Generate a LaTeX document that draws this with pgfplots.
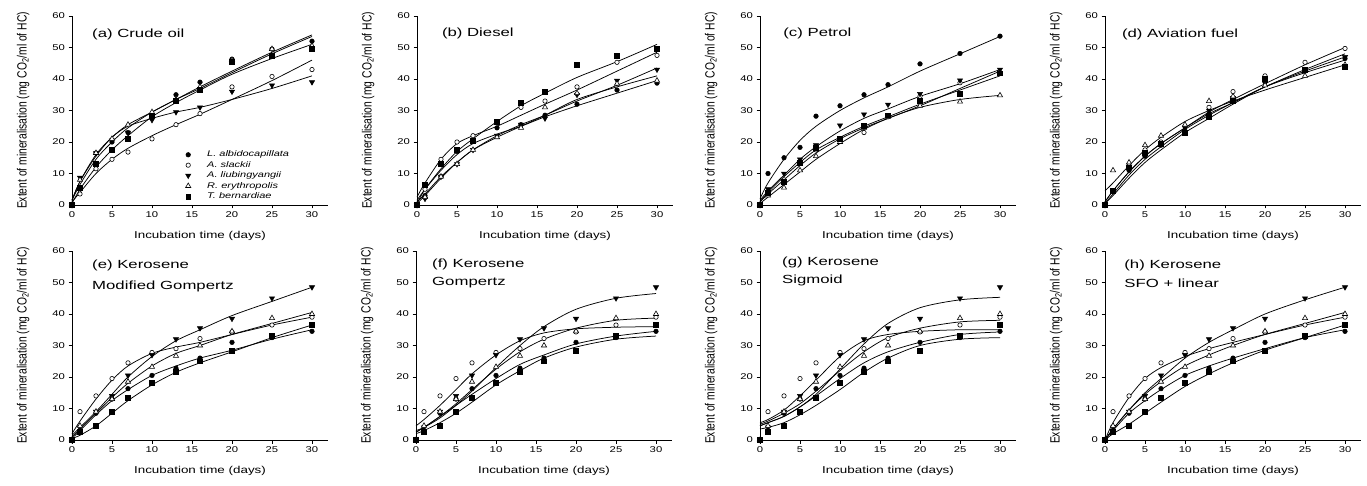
\documentclass[border=0pt]{standalone}
\usepackage{fontspec}
\setmainfont[FakeStretch=1.34]{Liberation Sans}
\newfontfamily\ylfont{Liberation Sans}
\newfontfamily\ttlfont[FakeStretch=1.42]{Liberation Sans}
\usepackage{pgfplots}
\usepackage{pgfplotstable}
\pgfplotsset{compat=1.18}

% ---------- marker data ----------
\pgfplotstableread{
t La As Al Re Tb
0 0 0 0 0 0
1 5.5 3.5 8.7 8 5.5
3 16.5 11.5 16.5 16.5 13
5 20 14.5 20.5 21 17.5
7 23 16.8 23 25.5 21
10 28 21 27 29.5 28.5
13 35 25.5 29.5 33.5 33
16 39 29 31 37.5 36.5
20 46.3 37.5 36 46 45.5
25 49.5 40.8 38 49.5 47.5
30 52 43 39 50.5 49.5
}\cM
\pgfplotstableread{
t La As Al Re Tb
0 1.5 1 1.5 1.5 0.5
1 6.5 4 7.5 7.5 5
3 14.5 10 15.5 16 12
5 20 14.5 21.5 21.5 17.5
7 24.5 18 25 25.5 22
10 29.5 22 27.5 29.5 28
13 33.5 25.5 29.5 33.5 32.5
16 37.5 28.8 31 37 36.5
20 42.5 33.5 33.5 42 41.5
25 48.5 39.5 37 48 46.5
30 54 46 41 53.5 51
}\cC
\pgfplotstableread{
t La As Al Re Tb
0 0 0 0 0 0
1 3 5 2 2.5 6.5
3 9 14.5 9 9 13
5 17 20 13 13 17.5
7 20.5 22 17.5 17.5 20.5
10 24.5 26.5 22 21.5 26.5
13 25.5 31 25.5 24.5 32.5
16 28.5 33 27.5 31 36
20 32 37.5 35 35.5 44.5
25 36.5 45.3 39.5 38.5 47.5
30 38.7 47.5 43 39.5 49.5
}\dM
\pgfplotstableread{
t La As Al Re Tb
0 1.5 2.5 0.5 1 0.5
1 5 7 3 3.5 5
3 11 14.5 8.5 9 11.5
5 16 19.5 13.5 13.5 17
7 19.5 22 17.5 17.5 21
10 22.5 25 22 21.5 26.5
13 25 28.5 25.5 25 31.5
16 28 32 28.5 28.5 35.5
20 31.5 36.5 33 33.5 40.5
25 35.5 42.5 38 37.5 45.5
30 39.5 48.5 43.5 41 51
}\dC
\pgfplotstableread{
t La As Al Re Tb
0 0 0 0 0 0
1 10 4 5 3 4
3 15 8 10 5.5 7.5
5 18.3 13.5 14.5 11 13.5
7 28.2 17.5 19 15.5 18.3
10 31.5 21 25.3 20 21
13 35 23 28.8 24.5 25.2
16 38.2 28 31.9 28 28.5
20 44.8 34.5 35.3 31.5 33
25 48.1 38.8 39.6 32.8 35.3
30 53.6 42 43 34.8 41.8
}\pM
\pgfplotstableread{
t La As Al Re Tb
0 2 1 1.5 0.5 1
1 7 3.5 4.5 2.5 4
3 14.5 8 9.5 6.5 9
5 20.5 12.5 14.5 10.5 13.5
7 25 16.5 18.5 14.5 17.5
10 30 21 23.5 19.5 21.5
13 34 24.5 27.5 24 25
16 37.5 27.5 30.5 27.5 28
20 42.5 31.5 34.5 31 32
25 48 37 38.5 33.5 36.5
30 53.5 42.5 43 34.8 41
}\pC
\pgfplotstableread{
t La As Al Re Tb
0 0 0 0 0 0
1 4.5 4.5 4.5 11 4.5
3 11 12.5 12 13.5 12
5 15.5 17.5 16.5 19 16.5
7 19 20 19.5 22 19.5
10 23.5 25 24.5 25.5 23
13 29 31 30 33 28
16 33 36 34 34.5 33
20 39 41 39.5 38 40
25 42.5 45.3 43 41 43
30 46.5 49.7 47 44.5 44
}\aM
\pgfplotstableread{
t La As Al Re Tb
0 0.5 1 0.5 4.5 1
1 3 4.5 3.5 7 4.5
3 8.5 10.5 9.5 12.5 10.5
5 13.5 15.5 14.5 17.5 15.5
7 17.5 19.5 18.5 21.5 19.5
10 23 24.5 24 26.5 24.5
13 27.5 29.5 28.5 30 29
16 32 33.5 32.5 33 32.5
20 37.5 38.5 37.5 36.5 37.5
25 42.5 44.5 43 40.5 42
30 47 50 48 44.5 46
}\aC
\pgfplotstableread{
t La As Al Re Tb
0 0 0 0 0 0
1 3 9 4 4.5 2.5
3 8.5 14 9 9 4.5
5 13 19.5 14 13 9
7 16.3 24.5 20.5 18.5 13.3
10 20.5 27.8 27 23.2 18.2
13 22.8 29 32 26.7 21.7
16 26 32.2 35.5 30 25
20 31 34.3 38.5 34.5 28.3
25 32.5 36.5 45 38.7 33
30 34.5 39 48.5 40 36.5
}\kM
% Modified Gompertz
\pgfplotstableread{
t La As Al Re Tb
0 0.5 2 1.5 1 0.5
1 3 6 4 3.5 1.5
3 8 13 9 8.5 4.5
5 12.5 19 14.5 13.5 8.5
7 16 23.5 20 18 12.5
10 20.5 27.5 26.5 23.5 17.5
13 23.5 29.5 31.5 27.5 21.5
16 26 31 35 30 24.5
20 28.5 33.5 39.5 33.5 28
25 32 36.5 44 37 32.5
30 35 39 48.5 40.5 36.5
}\eC
% Gompertz
\pgfplotstableread{
t La As Al Re Tb
0 2.5 4.5 3 2.5 2
1 4 6.5 4 4 3
3 7.5 11 7 7.5 5.5
5 11 16 11 11.5 8.5
7 14.5 21 15.5 16 12
10 19.5 27 23 22.5 17.5
13 24 31.5 30 28 22
16 27 34 36 32 26
20 30.5 35.3 41.5 35.5 29.5
25 33 35.8 45 38 32
30 34.5 36 46.5 38.7 33
}\fC
% Sigmoid
\pgfplotstableread{
t La As Al Re Tb
0 4.5 5.5 4.5 5 3.5
1 5.5 6.5 5.5 6 4
3 7.5 9.5 7.5 8.5 5.5
5 10.5 14 10.5 11.5 8
7 14 19 14.5 15.5 11
10 19.5 26.5 22.5 22 16
13 24.5 31.5 30.5 28 21.5
16 28 33.5 37 32.5 26
20 31 34.5 42 35.5 30
25 33.5 35 44.5 37.5 32
30 34.3 35 45.3 38 32.5
}\gC
% SFO + linear
\pgfplotstableread{
t La As Al Re Tb
0 0 0 0 0 0
1 3 5.5 3.5 3.5 2
3 8.5 13.5 9.5 9.5 5
5 12.5 19.5 15 14.5 8.5
7 16 23 19.5 18.5 12
10 20.5 26.5 26 23.5 17
13 23.5 29 31 27 21
16 26 31 35 30 24.5
20 29 33.5 40 33.5 28.5
25 32.5 36.5 44.5 37 32.5
30 35 39 48.5 40.5 36.5
}\hC

\pgfplotsset{
  panel/.style={
    scale only axis, width=256pt, height=189pt,
    xmin=0, xmax=32, ymin=0, ymax=60,
    axis x line*=bottom, axis y line*=left,
    axis line style={black, line width=0.8pt, -},
    xtick={0,5,...,30}, ytick={0,10,...,60},
    tick align=outside, major tick length=3.5pt,
    tick style={black, line width=0.7pt},
    ticklabel style={font=\fontsize{8.4}{10}\selectfont},
    /pgf/number format/assume math mode=true,
    clip=false,
    xlabel={Incubation time (days)},
    ylabel={Extent of mineralisation (mg CO\textsubscript{2}/ml of HC)},
    xlabel style={at={(axis description cs:0.5,-0.164)}, anchor=center,
      font=\fontsize{10}{12}\selectfont},
    ylabel style={at={(axis description cs:-0.191,0.5)}, anchor=center,
      font=\ylfont\fontsize{10.3}{12}\selectfont, yscale=1.3},
  },
  legimg/.style={legend image code/.code={\path[draw=none,fill=none] (0pt,0pt) -- (27pt,0pt); \draw[##1] plot coordinates {(8.5pt,0pt)};}},
  crv/.style={black, line width=0.75pt, smooth, tension=0.5, no marks, forget plot},
  mLa/.style={only marks, mark=*, mark size=2.3pt, mark options={draw=black, fill=black, line width=0.5pt}},
  mAs/.style={only marks, mark=*, mark size=2.2pt, mark options={draw=black, fill=white, line width=0.6pt}},
  mAl/.style={only marks, mark=triangle*, mark size=3pt, mark options={draw=black, fill=black, rotate=180, line width=0.5pt}},
  mRe/.style={only marks, mark=triangle*, mark size=3pt, mark options={draw=black, fill=white, line width=0.6pt}},
  mTb/.style={only marks, mark=square*, mark size=2.4pt, mark options={draw=black, fill=black, line width=0.5pt}},
}
\tikzset{ttl/.style={anchor=west, inner sep=0pt, font=\ttlfont\fontsize{11.8}{14}\selectfont}}

\newcommand{\panel}[6]{%
\begin{axis}[panel, at={(#1pt,#2pt)}, anchor=south west, #6]
  \addplot[crv] table[x=t,y=La]{#4};
  \addplot[crv] table[x=t,y=As]{#4};
  \addplot[crv] table[x=t,y=Al]{#4};
  \addplot[crv] table[x=t,y=Re]{#4};
  \addplot[crv] table[x=t,y=Tb]{#4};
  \addplot[mLa] table[x=t,y=La]{#3};
  \addplot[mAs] table[x=t,y=As]{#3};
  \addplot[mAl] table[x=t,y=Al]{#3};
  \addplot[mRe] table[x=t,y=Re]{#3};
  \addplot[mTb] table[x=t,y=Tb]{#3};
  #5
\end{axis}}

\begin{document}
\begin{tikzpicture}
\path[use as bounding box] (0,0) rectangle (1367pt,485pt);
% top row
\panel{72}{280}{\cM}{\cC}{\node[ttl] at (axis cs:2.5,54.3) {(a) Crude oil};}{%
  legend entries={L. albidocapillata, A. slackii, A. liubingyangii, R. erythropolis, T. bernardiae},
  legend cell align=left, legimg,
  legend style={at={(0.42,0.29)}, anchor=north west, draw=none, fill=none,
    inner sep=0pt, row sep=1.6pt, font=\itshape\fontsize{8.2}{9}\selectfont,
    nodes={inner sep=0.5pt, text height=6pt, text depth=1.8pt}}}
\panel{417}{280}{\dM}{\dC}{\node[ttl] at (axis cs:3.1,54.6) {(b) Diesel};}{}
\panel{760}{280}{\pM}{\pC}{\node[ttl] at (axis cs:2.9,54.6) {(c) Petrol};}{}
\panel{1105}{280}{\aM}{\aC}{\node[ttl] at (axis cs:2.1,54.3) {(d) Aviation fuel};}{}
% bottom row
\panel{72}{45}{\kM}{\eC}{\node[ttl] at (axis cs:2.5,55.3) {(e) Kerosene};
  \node[ttl] at (axis cs:2.5,48.9) {Modified Gompertz};}{}
\panel{416}{45}{\kM}{\fC}{\node[ttl] at (axis cs:2.0,55.6) {(f) Kerosene};
  \node[ttl] at (axis cs:2.0,50.0) {Gompertz};}{}
\panel{760}{45}{\kM}{\gC}{\node[ttl] at (axis cs:2.75,56.3) {(g) Kerosene};
  \node[ttl] at (axis cs:2.75,50.8) {Sigmoid};}{}
\panel{1105}{45}{\kM}{\hC}{\node[ttl] at (axis cs:2.4,55.5) {(h) Kerosene};
  \node[ttl] at (axis cs:2.4,49.8) {SFO + linear};}{}
\end{tikzpicture}
\end{document}
